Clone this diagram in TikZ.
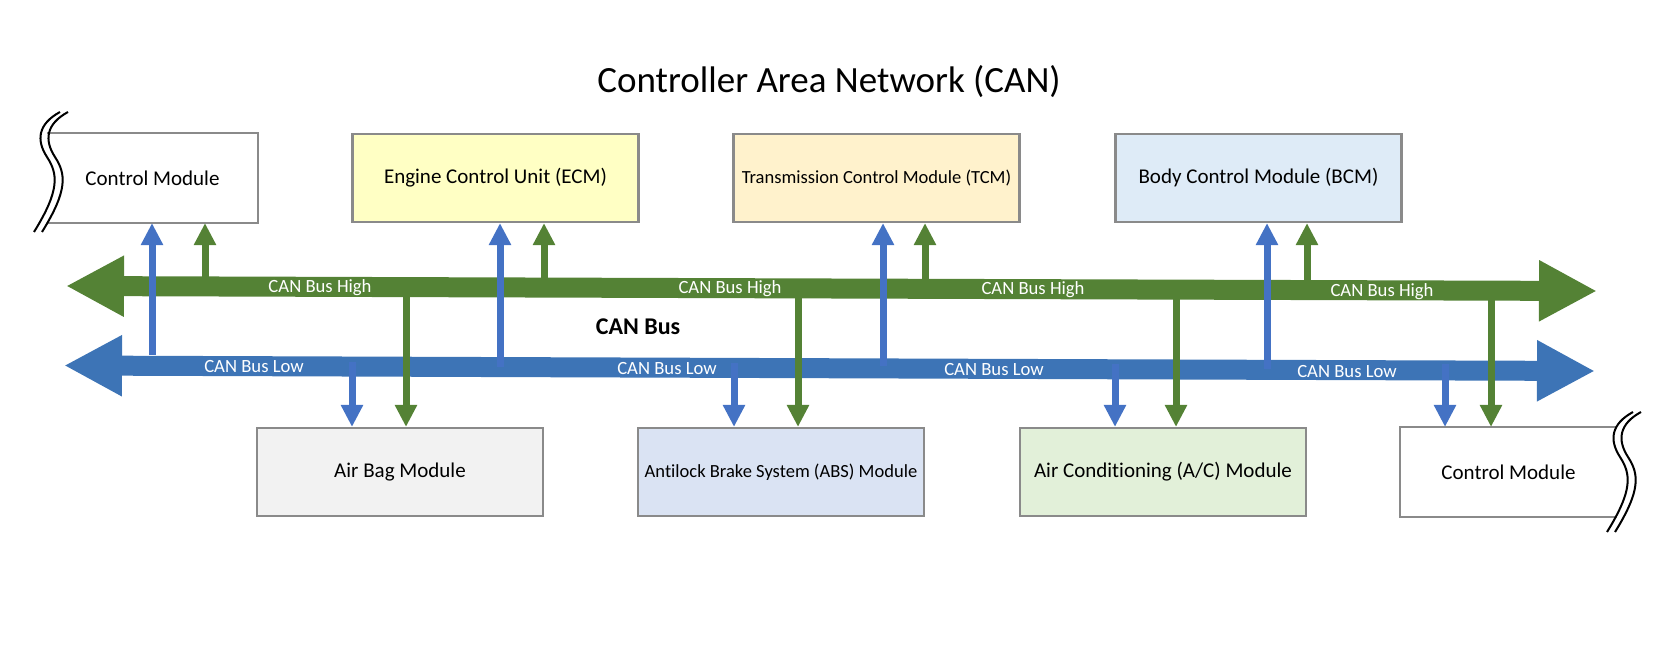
\documentclass[tikz,border=0pt]{standalone}
\usepackage{fontspec}
\setmainfont{Carlito}[Ligatures={NoCommon}]
\usetikzlibrary{arrows.meta}
\definecolor{busgreen}{HTML}{548235}
\definecolor{busblue}{HTML}{3D74B6}
\definecolor{arrblue}{HTML}{4472C4}
\definecolor{arrgreen}{HTML}{548235}
\definecolor{boxline}{HTML}{8A8A8A}
\definecolor{fillecm}{HTML}{FFFFC4}
\definecolor{filltcm}{HTML}{FFF2CC}
\definecolor{fillbcm}{HTML}{DEEBF7}
\definecolor{fillbag}{HTML}{F2F2F2}
\definecolor{fillabs}{HTML}{DAE3F3}
\definecolor{fillac}{HTML}{E2F0D9}
\begin{document}
\begin{tikzpicture}[x=0.75pt,y=-0.75pt,
  modbox/.style={draw=boxline, line width=1.6pt, minimum width=214.5pt, minimum height=66pt, inner sep=0pt, text=black, font=\fontsize{15.75}{18}\selectfont},
  smalltext/.style={font=\fontsize{13.9}{16}\selectfont},
  boxedge/.style={draw=boxline, line width=1.6pt},
  busline/.style={line width=15pt, {Triangle[width=42.75pt,length=43.5pt]}-{Triangle[width=42.75pt,length=43.5pt]}},
  buslabel/.style={text=white, font=\fontsize{14}{16}\selectfont, inner sep=0pt},
  vblue/.style={draw=arrblue, line width=5.25pt, -{Triangle[width=15.75pt,length=16.5pt]}},
  vgreen/.style={draw=arrgreen, line width=5.25pt, -{Triangle[width=15.75pt,length=16.5pt]}},
  brkline/.style={line width=1.5pt, black}
]
\useasboundingbox (0,0) rectangle (1676,652);

% title
\node[anchor=base, font=\fontsize{27.75}{32}\selectfont] (title) at (829,93) {Controller Area Network (CAN)};

% top modules
\node[modbox, draw=none, fill=white, minimum width=156.75pt] (cm1) at (152.5,178) {Control Module};
\node[modbox, fill=fillecm] (ecm) at (495.5,178) {Engine Control Unit (ECM)};
\node[modbox, fill=filltcm, smalltext] (tcm) at (876.5,178) {Transmission Control Module (TCM)};
\node[modbox, fill=fillbcm] (bcm) at (1258.5,178) {Body Control Module (BCM)};

% bottom modules
\node[modbox, fill=fillbag] (bag) at (400,472) {Air Bag Module};
\node[modbox, fill=fillabs, smalltext] (abs) at (781,472) {Antilock Brake System (ABS) Module};
\node[modbox, fill=fillac] (ac) at (1163,472) {Air Conditioning (A/C) Module};
\node[modbox, draw=none, fill=white, minimum width=161.25pt] (cm2) at (1508.5,472) {Control Module};

% clipped box edges
\draw[boxedge] (cm1.north west) -- (cm1.north east) -- (cm1.south east) -- (cm1.south west);
\draw[boxedge] (cm2.north east) -- (cm2.north west) -- (cm2.south west) -- (cm2.south east);

% break marks
\foreach \sx/\sy in {0/0, 1573/300}{
  \begin{scope}[shift={(\sx,\sy)}]
    \draw[brkline] (60,112) .. controls (38,124) and (36,140) .. (47,157) .. controls (58,174) and (60,190) .. (34,232);
    \draw[brkline] (68,112) .. controls (46,124) and (44,140) .. (55,157) .. controls (66,174) and (68,190) .. (42,232);
  \end{scope}
}

% buses
\coordinate (hl) at (66,286);
\coordinate (hr) at (1597,291);
\coordinate (ll) at (64,365.5);
\coordinate (lr) at (1595,371);
\draw[busline, busgreen] (hl) -- (hr);
\draw[busline, busblue] (ll) -- (lr);

% bus labels
\node[buslabel] (h1) at (320,288) {CAN Bus High};
\node[buslabel] (h2) at (730,289) {CAN Bus High};
\node[buslabel] (h3) at (1033,290) {CAN Bus High};
\node[buslabel] (h4) at (1382,292) {CAN Bus High};
\node[buslabel] (l1) at (254,367) {CAN Bus Low};
\node[buslabel] (l2) at (667,368.5) {CAN Bus Low};
\node[buslabel] (l3) at (994,370) {CAN Bus Low};
\node[buslabel] (l4) at (1347,371.5) {CAN Bus Low};
\node[font=\bfseries\fontsize{18}{20}\selectfont] (canbus) at (638,327) {CAN Bus};

% taps: up to top modules
\coordinate (bu1) at (152,355);
\coordinate (gu1) at (205,277);
\coordinate (bu2) at (500,367);
\coordinate (gu2) at (544,278);
\coordinate (bu3) at (883,366);
\coordinate (gu3) at (925,279);
\coordinate (bu4) at (1267,369);
\coordinate (gu4) at (1307,280);
\draw[vblue] (bu1) -- (bu1 |- cm1.south);
\draw[vgreen] (gu1) -- (gu1 |- cm1.south);
\draw[vblue] (bu2) -- (bu2 |- ecm.south);
\draw[vgreen] (gu2) -- (gu2 |- ecm.south);
\draw[vblue] (bu3) -- (bu3 |- tcm.south);
\draw[vgreen] (gu3) -- (gu3 |- tcm.south);
\draw[vblue] (bu4) -- (bu4 |- bcm.south);
\draw[vgreen] (gu4) -- (gu4 |- bcm.south);

% taps: down to bottom modules
\coordinate (bd1) at (352,362);
\coordinate (gd1) at (406,296);
\coordinate (bd2) at (734,363);
\coordinate (gd2) at (798,297);
\coordinate (bd3) at (1115,364);
\coordinate (gd3) at (1176,298);
\coordinate (bd4) at (1445,364);
\coordinate (gd4) at (1491,299);
\draw[vblue] (bd1) -- (bd1 |- bag.north);
\draw[vgreen] (gd1) -- (gd1 |- bag.north);
\draw[vblue] (bd2) -- (bd2 |- abs.north);
\draw[vgreen] (gd2) -- (gd2 |- abs.north);
\draw[vblue] (bd3) -- (bd3 |- ac.north);
\draw[vgreen] (gd3) -- (gd3 |- ac.north);
\draw[vblue] (bd4) -- (bd4 |- cm2.north);
\draw[vgreen] (gd4) -- (gd4 |- cm2.north);
\end{tikzpicture}
\end{document}
